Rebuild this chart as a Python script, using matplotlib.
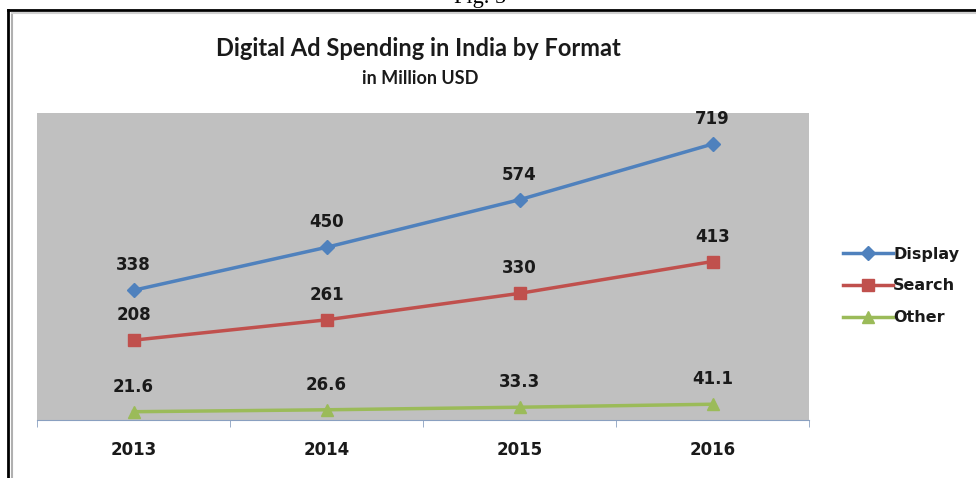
import matplotlib.pyplot as plt
from matplotlib.lines import Line2D

years = ["2013", "2014", "2015", "2016"]
display = [338, 450, 574, 719]
search = [208, 261, 330, 413]
other = [21.6, 26.6, 33.3, 41.1]
labels_display = ["338", "450", "574", "719"]
labels_search = ["208", "261", "330", "413"]
labels_other = ["21.6", "26.6", "33.3", "41.1"]

plt.rcParams['font.family'] = ['DejaVu Sans']

W, H = 976, 478
fig = plt.figure(figsize=(9.76, 4.78), dpi=100)
ax = fig.add_axes([37 / W, 1 - 420 / H, (809 - 37) / W, (420 - 113) / H])
ax.set_facecolor("#c0c0c0")

x = range(len(years))
ax.plot(x, display, color="#4f81bd", lw=2.5, marker="D", ms=7, label="Display")
ax.plot(x, search, color="#c0504d", lw=2.5, marker="s", ms=9, label="Search")
ax.plot(x, other, color="#9bbb59", lw=2.5, marker="^", ms=9, label="Other")

for vals, labs in [(display, labels_display), (search, labels_search), (other, labels_other)]:
    for i, (v, t) in enumerate(zip(vals, labs)):
        ax.annotate(t, (i, v), xytext=(0, 18), textcoords="offset points",
                    ha="center", va="center", fontsize=12, fontweight="bold", color="#1a1a1a")

ax.set_xlim(-0.5, 3.5)
ax.set_ylim(0, 800)
ax.set_yticks([])
ax.set_xticks(list(x))
ax.set_xticklabels(years, fontsize=12, fontweight="bold", color="#1a1a1a")
ax.tick_params(axis="x", length=0, pad=15)
ax.set_xticks([-0.5, 0.5, 1.5, 2.5, 3.5], minor=True)
ax.tick_params(axis="x", which="minor", length=5, color="#8aa0c0")
for s in ["top", "right", "left"]:
    ax.spines[s].set_visible(False)
ax.spines["bottom"].set_color("#8aa0c0")

leg = fig.legend(loc="center left", bbox_to_anchor=(843 / W, 1 - 286 / H), frameon=False,
                 handlelength=3.1, handletextpad=0.05, labelspacing=1.05,
                 borderpad=0, borderaxespad=0,
                 prop={"weight": "bold", "size": 11.5})
for t in leg.get_texts():
    t.set_color("#1a1a1a")

fig.text(418 / W, 1 - 48 / H, "Digital Ad Spending in India by Format", ha="center", va="center",
         fontsize=17, fontweight="bold", color="#1a1a1a", family="Lato")
fig.text(420 / W, 1 - 78 / H, "in Million USD", ha="center", va="center",
         fontsize=13, fontweight="bold", color="#1a1a1a", family="Lato")
fig.text(480 / W, 1 - 8 / H, "Fig. 5", ha="center", va="bottom", fontsize=16,
         family="Liberation Serif", color="black")

# outer frame
fig.add_artist(Line2D([8 / W, 8 / W], [0, 1 - 10 / H], color="black", lw=2))
fig.add_artist(Line2D([8 / W, 1], [1 - 10 / H, 1 - 10 / H], color="black", lw=2))
fig.add_artist(Line2D([12 / W, 12 / W], [0, 1 - 13 / H], color="#b0b0b0", lw=1.5))
fig.add_artist(Line2D([12 / W, 1], [1 - 13 / H, 1 - 13 / H], color="#d0d0d0", lw=1.5))

fig.savefig("out.png", dpi=100)
